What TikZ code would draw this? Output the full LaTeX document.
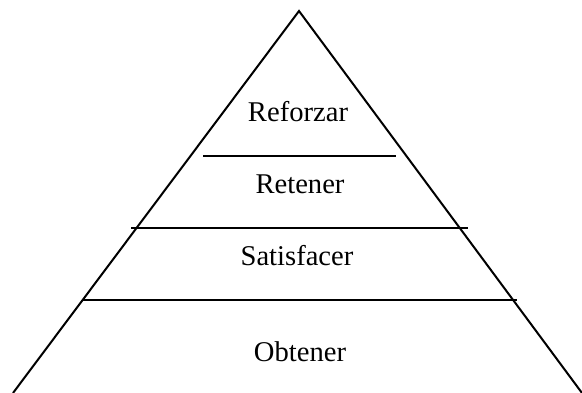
\documentclass[tikz,border=0pt]{standalone}
\usepackage{fontspec}
\setmainfont{Liberation Serif}
\usetikzlibrary{positioning}
\tikzset{
  tierlabel/.style={font=\fontsize{14.3}{17}\selectfont,anchor=base,
                    inner sep=0pt},
  tierline/.style={line width=1pt,draw=black,line join=miter}
}
\begin{document}
\begin{tikzpicture}[x=0.5pt,y=-0.5pt]
    \path[use as bounding box] (0,0) rectangle (582,392);
    % pyramid outline
    \coordinate (apex) at (299,11);
    \coordinate (baseL) at (13,393);
    \coordinate (baseR) at (582,393);
    \draw[tierline] (baseL) -- (apex) -- (baseR);

    % dividers
    \draw[tierline] (203,156) -- (396,156);
    \draw[tierline] (131,228) -- (468,228);
    \draw[tierline] (83,300) -- (517,300);

    \node[tierlabel] (reforzar) at (298,121) {Reforzar};
    \node[tierlabel] (retener) at (300,193) {Retener};
    \node[tierlabel] (satisfacer) at (297,265) {Satisfacer};
    \node[tierlabel] (obtener) at (300,361) {Obtener};
  \end{tikzpicture}
\end{document}
